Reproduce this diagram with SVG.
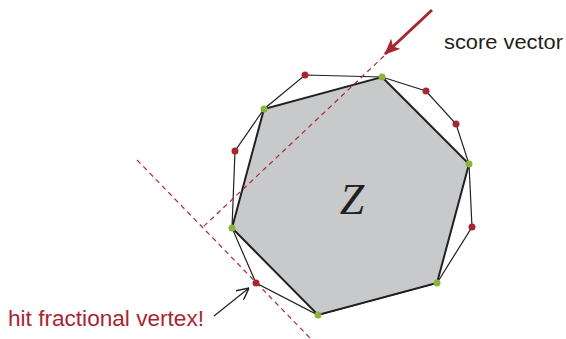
<svg xmlns="http://www.w3.org/2000/svg" width="566" height="339" viewBox="0 0 566 339">
<style>
.dash{stroke:#a52a35;stroke-width:1.2;stroke-dasharray:5,4;fill:none}
.thin{stroke:#231f20;stroke-width:1.2;fill:none}
.red{fill:#a8262f}
.grn{fill:#8cb43a}
</style>
<defs>
<marker id="ah" viewBox="0 0 16 14" refX="15" refY="7" markerWidth="16" markerHeight="14" markerUnits="userSpaceOnUse" orient="auto"><path d="M0,0 L16,7 L0,14 L4,7 Z" fill="#a8262f"/></marker>
<marker id="oa" viewBox="0 0 10 10" refX="10" refY="5" markerWidth="12" markerHeight="12" markerUnits="userSpaceOnUse" orient="auto"><path d="M0,0 L10,5 L0,10" fill="none" stroke="#231f20" stroke-width="1.2"/></marker>
</defs>
<g id="polytope">
<polygon points="382,77 469,164 437,283 318,315 232,228 264,109" fill="#c8c9cb" stroke="#231f20" stroke-width="2"/>
</g>
<g id="relaxation">
<polygon class="thin" points="232,228 235,151 264,109 305,75 382,77 426,91 456,124 469,164 472,227 437,283 318,315 256,283"/>
</g>
<g id="connectors">
<line class="dash" x1="384" y1="56" x2="203" y2="227"/>
<line class="dash" x1="137" y1="160" x2="310" y2="338"/>
<line x1="432" y1="10" x2="385" y2="54" stroke="#a8262f" stroke-width="3" marker-end="url(#ah)"/>
<line x1="214" y1="316" x2="249" y2="288" stroke="#231f20" stroke-width="1.2" marker-end="url(#oa)"/>
</g>
<g id="vertices">
<circle class="grn" cx="382" cy="77" r="3.5"/>
<circle class="grn" cx="264" cy="109" r="3.5"/>
<circle class="grn" cx="232" cy="228" r="3.5"/>
<circle class="grn" cx="318" cy="315" r="3.5"/>
<circle class="grn" cx="437" cy="283" r="3.5"/>
<circle class="grn" cx="469" cy="164" r="3.5"/>
<circle class="red" cx="305" cy="75" r="3.5"/>
<circle class="red" cx="426" cy="91" r="3.5"/>
<circle class="red" cx="456" cy="124" r="3.5"/>
<circle class="red" cx="235" cy="151" r="3.5"/>
<circle class="red" cx="472" cy="227" r="3.5"/>
<circle class="red" cx="256" cy="283" r="3.5"/>
</g>
<g id="labels">
<text x="352" y="214" font-family="Liberation Serif, serif" font-style="italic" font-size="44" fill="#231f20" text-anchor="middle">Z</text>
<text x="444" y="49" font-family="Liberation Sans, sans-serif" font-size="20" fill="#231f20" textLength="119" lengthAdjust="spacingAndGlyphs">score vector</text>
<text x="8" y="326" font-family="Liberation Sans, sans-serif" font-size="22" fill="#a8262f" textLength="196" lengthAdjust="spacingAndGlyphs">hit fractional vertex!</text>
</g>
</svg>
